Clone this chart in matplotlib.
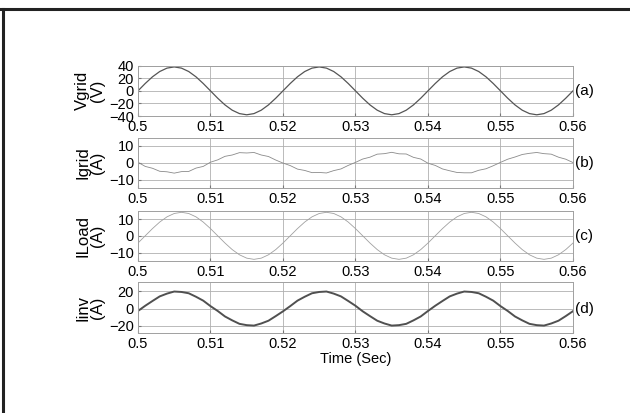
import matplotlib
matplotlib.use("Agg")
import matplotlib.pyplot as plt
from matplotlib.lines import Line2D
import numpy as np

plt.rcParams['font.family'] = ['Liberation Sans', 'DejaVu Sans']

# time axis, 1 ms steps
t = np.linspace(0.5, 0.56, 61)

vgrid = [0, 11.7, 22.3, 30.7, 36.1, 38.0, 36.1, 30.7, 22.3, 11.7,
         0, -11.7, -22.3, -30.7, -36.1, -38.0, -36.1, -30.7, -22.3, -11.7,
         0, 11.7, 22.3, 30.7, 36.1, 38.0, 36.1, 30.7, 22.3, 11.7,
         0, -11.7, -22.3, -30.7, -36.1, -38.0, -36.1, -30.7, -22.3, -11.7,
         0, 11.7, 22.3, 30.7, 36.1, 38.0, 36.1, 30.7, 22.3, 11.7,
         0, -11.7, -22.3, -30.7, -36.1, -38.0, -36.1, -30.7, -22.3, -11.7, 0]

igrid = [0.3, -2.2, -3.3, -5.1, -5.4, -6.2, -5.3, -5.2, -3.2, -2.2,
         0.3, 1.7, 3.8, 4.6, 6.0, 5.8, 6.1, 4.6, 3.7, 1.6,
         -0.2, -1.7, -3.8, -4.6, -5.9, -5.8, -6.1, -4.7, -3.7, -1.6,
         0.2, 2.2, 3.3, 5.1, 5.4, 6.2, 5.3, 5.2, 3.2, 2.2,
         -0.3, -1.6, -3.7, -4.8, -5.8, -6.0, -6.0, -4.5, -3.6, -1.8,
         0.2, 2.1, 3.4, 4.9, 5.6, 6.1, 5.4, 5.1, 3.3, 2.1, 0.1]

iload = [-4.3, 0, 4.3, 8.2, 11.3, 13.3, 14.0, 13.3, 11.3, 8.2,
         4.3, 0, -4.3, -8.2, -11.3, -13.3, -14.0, -13.3, -11.3, -8.2,
         -4.3, 0, 4.3, 8.2, 11.3, 13.3, 14.0, 13.3, 11.3, 8.2,
         4.3, 0, -4.3, -8.2, -11.3, -13.3, -14.0, -13.3, -11.3, -8.2,
         -4.3, 0, 4.3, 8.2, 11.3, 13.3, 14.0, 13.3, 11.3, 8.2,
         4.3, 0, -4.3, -8.2, -11.3, -13.3, -14.0, -13.3, -11.3, -8.2, -4.3]

iinv = [-2.8, 3.2, 8.7, 14.0, 17.2, 19.6, 19.1, 17.6, 13.6, 9.1,
        2.8, -2.8, -9.1, -13.6, -17.6, -19.1, -19.6, -17.2, -14.0, -8.7,
        -3.2, 2.8, 9.1, 13.6, 17.6, 19.1, 19.6, 17.2, 14.0, 8.7,
        3.2, -3.2, -8.7, -14.0, -17.2, -19.6, -19.1, -17.6, -13.6, -9.1,
        -2.8, 3.2, 8.7, 14.0, 17.2, 19.6, 19.1, 17.6, 13.6, 9.1,
        2.8, -2.8, -9.1, -13.6, -17.6, -19.1, -19.6, -17.2, -14.0, -8.7, -3.0]

xticks = [0.5, 0.51, 0.52, 0.53, 0.54, 0.55, 0.56]
xticklabels = ['0.5', '0.51', '0.52', '0.53', '0.54', '0.55', '0.56']

panels = [
    (vgrid, 'Vgrid\n(V)', '(a)', (-40, 40), [-40, -20, 0, 20, 40], '#555555', 0.9),
    (igrid, 'Igrid\n(A)', '(b)', (-15, 15), [-10, 0, 10], '#8a8a8a', 0.6),
    (iload, 'ILoad\n(A)', '(c)', (-15, 15), [-10, 0, 10], '#a0a0a0', 0.6),
    (iinv, 'Iinv\n(A)', '(d)', (-28, 30), [-20, 0, 20], '#505050', 1.4),
]
bottoms = [0.719, 0.545, 0.368, 0.194]

fig = plt.figure(figsize=(6.3, 4.13), dpi=100)

for (y, ylab, tag, ylim, yt, col, lw), b in zip(panels, bottoms):
    ax = fig.add_axes([0.219, b, 0.6905, 0.122])
    ax.plot(t, y, color=col, lw=lw)
    ax.set_xlim(0.5, 0.56)
    ax.set_ylim(*ylim)
    ax.set_xticks(xticks)
    ax.set_xticklabels(xticklabels)
    ax.set_yticks(yt)
    ax.grid(True, color='#b0b0b0', lw=0.6)
    ax.tick_params(direction='in', length=2, labelsize=10.5, pad=3, color='#777777')
    for s in ax.spines.values():
        s.set_color('#a0a0a0')
        s.set_linewidth(0.7)
    ax.set_ylabel(ylab, fontsize=12, linespacing=0.95, labelpad=3)
    ax.text(1.004, 0.5 if ylim[0] == -ylim[1] else -ylim[0] / (ylim[1] - ylim[0]),
            tag, transform=ax.transAxes, va='center', ha='left', fontsize=11)

ax.set_xlabel('Time (Sec)', fontsize=10.5, labelpad=1)

# outer frame lines
fig.add_artist(Line2D([0, 1], [0.977, 0.977], color='#222222', lw=2.2, transform=fig.transFigure))
fig.add_artist(Line2D([0.004, 0.004], [0, 0.977], color='#222222', lw=2.2, transform=fig.transFigure))

fig.savefig('out.png', dpi=100)
